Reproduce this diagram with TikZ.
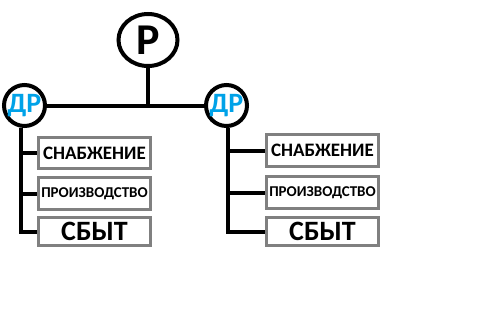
\documentclass[tikz,border=0pt]{standalone}
\usepackage{fontspec}
\setmainfont{Carlito}
\usetikzlibrary{positioning, shapes.geometric}

\definecolor{drblue}{RGB}{0,162,232}
\definecolor{boxgray}{RGB}{128,128,128}

\begin{document}
\begin{tikzpicture}[
    x=1pt, y=-1pt,
    head/.style={draw, ellipse, line width=4pt, minimum width=59pt, minimum height=52pt, inner sep=0pt, font=\bfseries\fontsize{44}{44}\selectfont},
    dept/.style={draw, circle, line width=4pt, minimum size=41pt, inner sep=0pt, text=drblue, font=\bfseries\fontsize{28}{28}\selectfont},
    unit/.style={draw=boxgray, line width=3pt, minimum width=112pt, inner sep=0pt, font=\bfseries},
    big/.style={font=\bfseries\fontsize{19}{19}\selectfont},
    small/.style={font=\bfseries\fontsize{15}{15}\selectfont},
    huge/.style={font=\bfseries\fontsize{28}{28}\selectfont},
    link/.style={line width=4pt}
]
    \useasboundingbox (0,0) rectangle (497,308);

    \node[head] (r) at (148,40) {Р};
    \node[dept] (dl) at (24.5,105.5) {ДР};
    \node[dept] (dr) at (226.5,105.5) {ДР};

    % left division
    \node[unit, big, minimum height=31pt] (ls1) at (94.5,153) {СНАБЖЕНИЕ};
    \node[unit, small, minimum height=32pt] (ls2) at (94.5,193.5) {ПРОИЗВОДСТВО};
    \node[unit, huge, minimum height=28pt] (ls3) at (94.5,231.5) {СБЫТ};

    % right division
    \node[unit, big, minimum height=32pt] (rs1) at (322.5,150.5) {СНАБЖЕНИЕ};
    \node[unit, small, minimum height=32pt] (rs2) at (322.5,192.5) {ПРОИЗВОДСТВО};
    \node[unit, huge, minimum height=28pt] (rs3) at (322.5,231.5) {СБЫТ};

    \draw[link] (dl) -- (dr);
    \draw[link] (r.south) -- (r.south |- dl.east);

    \draw[link] (dl.-100) |- (ls3.west);
    \draw[link] (dl.-100 |- ls1.west) -- (ls1.west);
    \draw[link] (dl.-100 |- ls2.west) -- (ls2.west);

    \draw[link] (dr.-85) |- (rs3.west);
    \draw[link] (dr.-85 |- rs1.west) -- (rs1.west);
    \draw[link] (dr.-85 |- rs2.west) -- (rs2.west);
\end{tikzpicture}
\end{document}
